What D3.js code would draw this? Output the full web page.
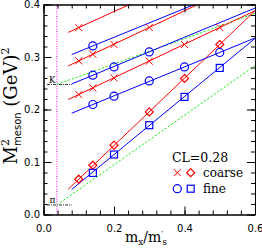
<!DOCTYPE html>
<html><head><meta charset="utf-8">
<script src="https://cdn.jsdelivr.net/npm/d3@7"></script>
<style>body{margin:0;background:#fff}svg{display:block}</style>
</head><body><svg id="c" width="262" height="250"></svg>
<script>
// ---- data ----
const xTicksMajor = [0.0, 0.2, 0.4, 0.6];
const yTicksMajor = [0.0, 0.1, 0.2, 0.3, 0.4];
const xTickLabels = ["0.0", "0.2", "0.4", "0.6"];
const yTickLabels = ["0.0", "0.1", "0.2", "0.3", "0.4"];

// coarse "kaon" (×) points per line
const coarseKaonX = [[0.10], [0.10, 0.14, 0.20, 0.30], [0.10, 0.14, 0.20, 0.30, 0.40, 0.50]];
const coarseKaonY = [[0.356], [0.2926, 0.3053, 0.3238, 0.3562], [0.2286, 0.2411, 0.2602, 0.2920, 0.3238, 0.3562]];
// coarse "pion" (◇)
const coarsePionX = [0.10, 0.14, 0.20, 0.30, 0.40, 0.50];
const coarsePionY = [0.0672, 0.0939, 0.1320, 0.1954, 0.2590, 0.3238];
// fine "kaon" (○)
const fineKaonX = [[0.14], [0.14, 0.20, 0.30], [0.14, 0.20, 0.30, 0.40, 0.50]];
const fineKaonY = [[0.3211], [0.2653, 0.2811, 0.3097], [0.2095, 0.2253, 0.2545, 0.2811, 0.3086]];
// fine "pion" (□)
const finePionX = [0.14, 0.20, 0.30, 0.40, 0.50];
const finePionY = [0.0792, 0.1143, 0.1701, 0.2240, 0.2792];

// linear fits: [intercept, slope, xStart, xEnd]
const coarseKaonFits = [[0.3255, 0.305, 0.07, 0.6], [0.2608, 0.318, 0.07, 0.6], [0.1967, 0.319, 0.07, 0.6]];
const coarsePionFit = [0.0031, 0.6415, 0.07, 0.6];
const fineKaonFits = [[0.2827, 0.274, 0.08, 0.6], [0.2264, 0.278, 0.08, 0.6], [0.1709, 0.2755, 0.08, 0.6]];
const finePionFit = [0.0035, 0.553, 0.08, 0.6];

// physical reference
const physRatio = 0.038;
const mK2 = 0.2477, mPi2 = 0.0182;
const greenPionX = [0.038, 0.6], greenPionY = [0.0182, 0.2835];
const greenKaonX = [0.038, 0.6], greenKaonY = [0.2477, 0.383];
const refLineX = [0.01, 0.08];
const legendTitle = "CL=0.28";
const legendLabels = ["coarse", "fine"];

// ---- drawing ----
const svg = d3.select("#c");
const L = 43.5, R = 255, T = 4.5, B = 214.5;
const x = d3.scaleLinear().domain([0, 0.6]).range([L, R]);
const y = d3.scaleLinear().domain([0, 0.4]).range([B, T]);
const RED = "#ff0000", BLUE = "#0000ff", GREEN = "#00ee00", MAG = "#ff00ff";

svg.append("clipPath").attr("id", "clip").append("rect")
  .attr("x", L).attr("y", T).attr("width", R - L).attr("height", B - T);
const g = svg.append("g").attr("clip-path", "url(#clip)");
const line = d3.line().x(d => x(d[0])).y(d => y(d[1]));

// magenta vertical dotted
g.append("path").attr("d", line([[physRatio, 0], [physRatio, 0.4]]))
  .attr("stroke", MAG).attr("stroke-width", 1).attr("stroke-dasharray", "1,1.5").attr("fill", "none");
// reference dash-dot lines
[mK2, mPi2].forEach(v => {
  g.append("path").attr("d", line(refLineX.map(xx => [xx, v])))
    .attr("stroke", "#333").attr("stroke-width", 1).attr("stroke-dasharray", "3,1,1,1").attr("fill", "none");
});
// green dashed
[[greenPionX, greenPionY], [greenKaonX, greenKaonY]].forEach(([xs, ys]) => {
  g.append("path").attr("d", line(xs.map((xx, i) => [xx, ys[i]])))
    .attr("stroke", GREEN).attr("stroke-width", 1).attr("stroke-dasharray", "2,2").attr("fill", "none");
});

function fitLine(f, color) {
  g.append("path").attr("d", line([[f[2], f[0] + f[1] * f[2]], [f[3], f[0] + f[1] * f[3]]]))
    .attr("stroke", color).attr("stroke-width", 1).attr("fill", "none");
}
coarseKaonFits.forEach(f => fitLine(f, RED));
fitLine(coarsePionFit, RED);
fineKaonFits.forEach(f => fitLine(f, BLUE));
fitLine(finePionFit, BLUE);

function marker(sel, type, cx, cy, color) {
  const s = 3.5;
  if (type === "x") {
    sel.append("path").attr("d", `M${cx - s},${cy - s}L${cx + s},${cy + s}M${cx - s},${cy + s}L${cx + s},${cy - s}`)
      .attr("stroke", color).attr("stroke-width", 1).attr("fill", "none");
  } else if (type === "o") {
    sel.append("circle").attr("cx", cx).attr("cy", cy).attr("r", 4)
      .attr("stroke", color).attr("stroke-width", 1.2).attr("fill", "none");
  } else if (type === "s") {
    sel.append("rect").attr("x", cx - s).attr("y", cy - s).attr("width", 2 * s).attr("height", 2 * s)
      .attr("stroke", color).attr("stroke-width", 1.2).attr("fill", "none");
  } else if (type === "d") {
    const d = 4;
    sel.append("path").attr("d", `M${cx},${cy - d}L${cx + d},${cy}L${cx},${cy + d}L${cx - d},${cy}Z`)
      .attr("stroke", color).attr("stroke-width", 1.2).attr("fill", "none");
  }
}
const mg = svg.append("g");
coarseKaonX.forEach((xs, j) => xs.forEach((xx, i) => marker(mg, "x", x(xx), y(coarseKaonY[j][i]), RED)));
coarsePionX.forEach((xx, i) => marker(mg, "d", x(xx), y(coarsePionY[i]), RED));
fineKaonX.forEach((xs, j) => xs.forEach((xx, i) => marker(mg, "o", x(xx), y(fineKaonY[j][i]), BLUE)));
finePionX.forEach((xx, i) => marker(mg, "s", x(xx), y(finePionY[i]), BLUE));

// axes
const xMinor = d3.range(0, 0.6001, 0.04);
const yMinor = d3.range(0, 0.4001, 0.02);
const ax = svg.append("g").attr("font-family", "DejaVu Sans").attr("font-size", 10);
function addAxis(gen, tr, vals, size, fmt) {
  const a = ax.append("g").attr("transform", tr)
    .call(gen.tickValues(vals).tickSize(size).tickSizeOuter(0).tickFormat(fmt));
  a.select(".domain").attr("stroke", "#000");
  a.selectAll("text").attr("fill", "#000").attr("font-family", "DejaVu Sans").attr("font-size", 10);
  return a;
}
const none = () => "";
addAxis(d3.axisBottom(x), `translate(0,${B})`, xMinor, -4, none);
addAxis(d3.axisTop(x), `translate(0,${T})`, xMinor, -4, none);
addAxis(d3.axisLeft(y), `translate(${L},0)`, yMinor, -4, none);
addAxis(d3.axisRight(y), `translate(${R},0)`, yMinor, -4, none);
const xb = addAxis(d3.axisBottom(x), `translate(0,${B})`, xTicksMajor, -8, (d, i) => xTickLabels[i]);
xb.selectAll("text").attr("y", 10).attr("dy", "0.71em");
addAxis(d3.axisTop(x), `translate(0,${T})`, xTicksMajor, -8, none);
const yl = addAxis(d3.axisLeft(y), `translate(${L},0)`, yTicksMajor, -8, (d, i) => yTickLabels[i]);
yl.selectAll("text").attr("x", -3.5);
addAxis(d3.axisRight(y), `translate(${R},0)`, yTicksMajor, -8, none);

// K / π labels
svg.append("text").attr("x", 49).attr("y", y(mK2) - 1.5).attr("font-family", "DejaVu Serif").attr("font-size", 8.5).text("K");
svg.append("text").attr("x", 49.5).attr("y", y(mPi2) - 1.5).attr("font-family", "DejaVu Serif").attr("font-size", 9).text("π");

// x label
const xt = svg.append("text").attr("x", 125).attr("y", 242).attr("font-family", "DejaVu Serif").attr("font-size", 14);
xt.append("tspan").text("m");
xt.append("tspan").attr("font-size", 9).attr("dy", 3).text("x");
xt.append("tspan").attr("dy", -3).text("/m");
xt.append("tspan").attr("font-size", 8).attr("dy", -6).text("′");
xt.append("tspan").attr("font-size", 9).attr("dy", 9).attr("dx", -1).text("s");

// y label
const yt = svg.append("text").attr("transform", "translate(17,106) rotate(-90)")
  .attr("text-anchor", "middle").attr("font-family", "DejaVu Serif").attr("font-size", 18);
yt.append("tspan").text("M");
yt.append("tspan").attr("font-size", 11).attr("dy", -8).text("2");
yt.append("tspan").attr("font-size", 10).attr("font-family", "DejaVu Sans").attr("dx", -7).attr("dy", 12).text("meson");
yt.append("tspan").attr("dy", -4).text(" (GeV)");
yt.append("tspan").attr("font-size", 11).attr("dy", -8).text("2");

// legend
const lg = svg.append("g").attr("font-family", "DejaVu Serif");
lg.append("text").attr("x", 172).attr("y", 161.5).attr("font-size", 12.5).text(legendTitle);
marker(lg, "x", 177.3, 172.7, RED);
marker(lg, "d", 190.7, 172.7, RED);
lg.append("text").attr("x", 203).attr("y", 176.5).attr("font-size", 12).text(legendLabels[0]);
marker(lg, "o", 177.3, 188.7, BLUE);
marker(lg, "s", 190.7, 188.7, BLUE);
lg.append("text").attr("x", 203).attr("y", 192.5).attr("font-size", 12).text(legendLabels[1]);
</script></body></html>
